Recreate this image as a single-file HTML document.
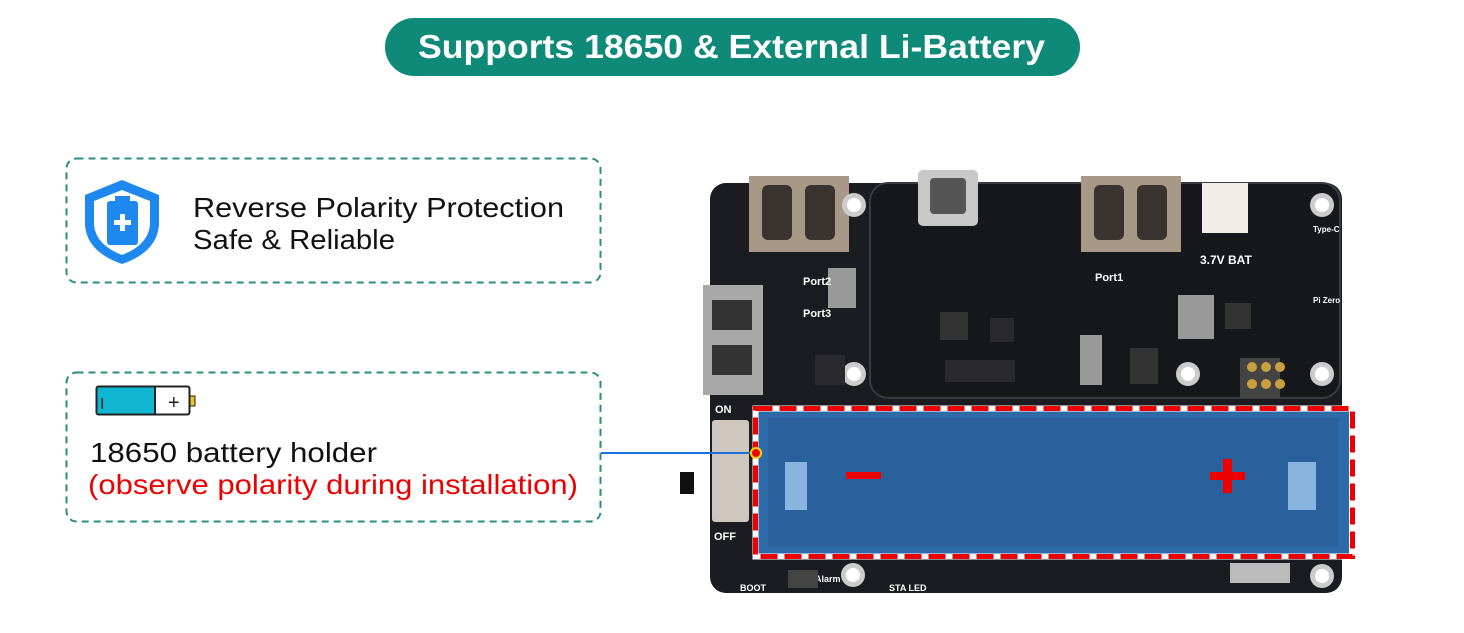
<!DOCTYPE html>
<html><head><meta charset="utf-8"><style>
html,body{margin:0;padding:0;background:#fff;}
body{width:1464px;height:633px;position:relative;overflow:hidden;font-family:"Liberation Sans",sans-serif;}
</style></head><body>
<svg width="1464" height="633" style="position:absolute;left:0;top:0" xmlns="http://www.w3.org/2000/svg">
<rect x="385" y="18" width="695" height="58" rx="29" fill="#0f8a78"/>
<text x="418" y="58" textLength="627" lengthAdjust="spacingAndGlyphs" font-family="Liberation Sans" font-weight="bold" font-size="33" fill="#fff">Supports 18650 &amp; External Li-Battery</text>
<rect x="66.5" y="158.5" width="534" height="124" rx="10" fill="none" stroke="#2a8f80" stroke-width="2" stroke-dasharray="7,5"/>
<rect x="66.5" y="372.5" width="534" height="149" rx="10" fill="none" stroke="#2a8f80" stroke-width="2" stroke-dasharray="7,5"/>
<path d="M122 180 L159 195 L159 225 Q157 252 122 264 Q87 252 85 225 L85 195 Z" fill="#1e88ee"/>
<path d="M122 190 L150 201 L150 225 Q148 245 122 255 Q96 245 94 225 L94 201 Z" fill="#fff"/>
<rect x="107" y="201" width="31" height="44" rx="3" fill="#1e88ee"/><rect x="115" y="196" width="15" height="6" fill="#1e88ee"/>
<rect x="120" y="214" width="5" height="17" fill="#fff"/><rect x="114" y="220" width="17" height="5" fill="#fff"/>
<text x="193" y="217" textLength="371" lengthAdjust="spacingAndGlyphs" font-family="Liberation Sans" font-size="28" fill="#111">Reverse Polarity Protection</text>
<text x="193" y="249" textLength="202" lengthAdjust="spacingAndGlyphs" font-family="Liberation Sans" font-size="28" fill="#111">Safe &amp; Reliable</text>
<rect x="96.5" y="386.5" width="93" height="28" rx="2" fill="#fff" stroke="#222" stroke-width="2"/>
<rect x="97.5" y="387.5" width="57" height="26" fill="#10b5d2"/><line x1="155" y1="387" x2="155" y2="414" stroke="#222" stroke-width="2"/>
<rect x="190" y="396" width="5" height="10" fill="#f0c020" stroke="#222"/>
<text x="100" y="409" font-size="16" fill="#222">I</text><text x="168" y="409" font-size="20" fill="#222">+</text>
<text x="90" y="462" textLength="287" lengthAdjust="spacingAndGlyphs" font-family="Liberation Sans" font-size="28" fill="#111">18650 battery holder</text>
<text x="88" y="494" textLength="490" lengthAdjust="spacingAndGlyphs" font-family="Liberation Sans" font-size="28" fill="#e00">(observe polarity during installation)</text>
<rect x="710" y="183" width="632" height="410" rx="16" fill="#1b1c21"/>
<rect x="870" y="183" width="470" height="215" rx="18" fill="#17181c" stroke="#3a3b42" stroke-width="2"/>
<rect x="749" y="176" width="100" height="76" fill="#a89888"/><rect x="762" y="185" width="30" height="55" rx="6" fill="#3a3330"/><rect x="805" y="185" width="30" height="55" rx="6" fill="#3a3330"/>
<rect x="1081" y="176" width="100" height="76" fill="#a89888"/><rect x="1094" y="185" width="30" height="55" rx="6" fill="#3a3330"/><rect x="1137" y="185" width="30" height="55" rx="6" fill="#3a3330"/>
<rect x="703" y="285" width="60" height="110" fill="#a8a8a8"/><rect x="712" y="300" width="40" height="30" fill="#333"/><rect x="712" y="345" width="40" height="30" fill="#333"/>
<rect x="918" y="170" width="60" height="56" rx="5" fill="#c8c8c8"/><rect x="930" y="178" width="36" height="36" rx="4" fill="#555"/>
<rect x="1202" y="183" width="46" height="50" fill="#f0eee8"/>
<circle cx="1322" cy="205" r="12" fill="#ccc"/><circle cx="1322" cy="205" r="7" fill="#fff"/>
<circle cx="854" cy="205" r="12" fill="#ccc"/><circle cx="854" cy="205" r="7" fill="#fff"/>
<circle cx="854" cy="374" r="12" fill="#ccc"/><circle cx="854" cy="374" r="7" fill="#fff"/>
<circle cx="1188" cy="374" r="12" fill="#ccc"/><circle cx="1188" cy="374" r="7" fill="#fff"/>
<circle cx="1322" cy="374" r="12" fill="#ccc"/><circle cx="1322" cy="374" r="7" fill="#fff"/>
<circle cx="1322" cy="576" r="12" fill="#ccc"/><circle cx="1322" cy="576" r="7" fill="#fff"/>
<circle cx="853" cy="575" r="12" fill="#ccc"/><circle cx="853" cy="575" r="7" fill="#fff"/>
<rect x="828" y="268" width="28" height="40" fill="#999"/><rect x="1178" y="295" width="36" height="44" fill="#999"/>
<rect x="1080" y="335" width="22" height="50" fill="#999"/>
<rect x="1130" y="348" width="28" height="36" fill="#333"/><rect x="940" y="312" width="28" height="28" fill="#333"/><rect x="1225" y="303" width="26" height="26" fill="#333"/>
<rect x="990" y="318" width="24" height="24" fill="#2a2a2e"/><rect x="945" y="360" width="70" height="22" fill="#2a2a2e"/><rect x="815" y="355" width="30" height="30" fill="#2a2a2e"/>
<rect x="1240" y="358" width="40" height="40" fill="#444"/>
<circle cx="1252" cy="367" r="5" fill="#c9a040"/><circle cx="1266" cy="367" r="5" fill="#c9a040"/><circle cx="1280" cy="367" r="5" fill="#c9a040"/>
<circle cx="1252" cy="384" r="5" fill="#c9a040"/><circle cx="1266" cy="384" r="5" fill="#c9a040"/><circle cx="1280" cy="384" r="5" fill="#c9a040"/>
<g font-family="Liberation Sans" font-weight="bold" font-size="11" fill="#fff">
<text x="803" y="285">Port2</text><text x="803" y="317">Port3</text><text x="1095" y="281">Port1</text>
<text x="1200" y="264" font-size="12">3.7V BAT</text><text x="715" y="413">ON</text><text x="714" y="540">OFF</text>
<text x="740" y="591" font-size="9">BOOT</text><text x="815" y="582" font-size="9">Alarm</text><text x="889" y="591" font-size="9">STA LED</text>
<text x="1313" y="232" font-size="8">Type-C</text><text x="1313" y="303" font-size="8">Pi Zero</text>
</g>
<rect x="1230" y="563" width="60" height="20" fill="#bbb"/>
<rect x="788" y="570" width="30" height="18" fill="#444"/>
<rect x="712" y="420" width="37" height="102" rx="3" fill="#cfc7be"/>
<rect x="680" y="472" width="14" height="22" fill="#111"/>
<rect x="757" y="408" width="592" height="148" fill="#2f6aa8"/>
<rect x="768" y="418" width="570" height="128" fill="#2a609c"/>
<rect x="785" y="462" width="22" height="48" fill="#8ab4e0"/><rect x="1288" y="462" width="28" height="48" fill="#8ab4e0"/>
<rect x="846" y="472" width="35" height="7" fill="#e00"/>
<rect x="1210" y="472" width="35" height="8" fill="#e00"/><rect x="1223" y="459" width="9" height="34" fill="#e00"/>
<rect x="755.5" y="408.5" width="597" height="148" fill="none" stroke="#fff" stroke-width="6"/>
<rect x="755.5" y="408.5" width="597" height="148" fill="none" stroke="#e00" stroke-width="5" stroke-dasharray="17,7"/>
<line x1="601" y1="453" x2="755" y2="453" stroke="#1a73d8" stroke-width="2"/>
<circle cx="756" cy="453" r="5" fill="#e00" stroke="#ffd600" stroke-width="2"/>
</svg>
</body></html>
